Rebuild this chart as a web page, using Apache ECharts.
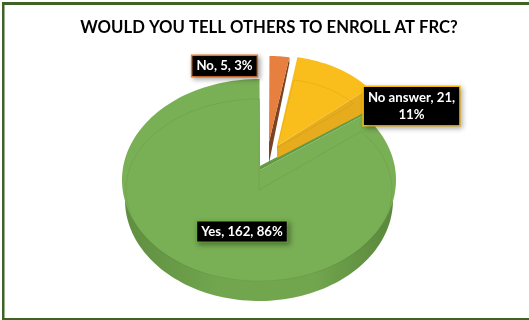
<!DOCTYPE html>
<html>
<head>
<meta charset="utf-8">
<style>html,body{margin:0;padding:0;background:#fff}#chart{width:529px;height:320px}</style>
<script src="https://cdn.jsdelivr.net/npm/echarts@6/dist/echarts.min.js"></script>
</head>
<body>
<div id="chart"></div>
<script>
// Survey answers
const categories = ['Yes', 'No', 'No answer'];
const counts = [162, 5, 21];
const titleText = 'WOULD YOU TELL OTHERS TO ENROLL AT FRC?';

// First slice starts this many degrees clockwise from twelve o'clock
const firstSliceAngle = 50;

// Tilted-pie geometry and look of each slice
const sliceLooks = [
  { apex: [260, 170], center: [259, 180], rx: 137, ry: 101, top: '#79AF55', rimDepth: 20, wallRx: 134,
    wallGradient: ['#5F8E40', '#72A64E', '#72A64E', '#5A873C'],
    cut: { edge: 'start', apexDepth: -4, rimDepth: -4, color: '#659A45' },
    inner: { center: [259, 190], rx: 133, ry: 91, color: 'rgba(70,110,45,0.14)' },
    label: { x: 242, y: 231.5, border: '#70AD47', wrap: false } },
  { apex: [269, 142], center: [269, 146], rx: 120, ry: 90, top: '#E77F3E', rimDepth: 0,
    cut: { edge: 'end', apexDepth: 21, rimDepth: 6, color: '#7A4322' },
    label: { x: 224.5, y: 66, border: '#ED7D31', wrap: false } },
  { apex: [277, 146], center: [277, 146], rx: 120, ry: 90, top: '#F9BE1C', rimDepth: 0,
    cut: { edge: 'end', apexDepth: 12, rimDepth: 22, color: '#E6AC1D' },
    inner: { center: [277, 148], rx: 100, ry: 69, color: 'rgba(170,120,10,0.18)' },
    label: { x: 411.5, y: 106, border: '#FFC000', wrap: true } }
];

const total = counts.reduce((a, b) => a + b, 0);
const toRad = d => d * Math.PI / 180;
const rimPoint = (c, rx, ry, deg, dy = 0) =>
  [c[0] + rx * Math.sin(toRad(deg)), c[1] - ry * Math.cos(toRad(deg)) + dy];

function arcPoints(c, rx, ry, from, to, dy = 0) {
  const pts = [];
  const steps = Math.max(8, Math.ceil((to - from) / 2));
  for (let i = 0; i <= steps; i++) pts.push(rimPoint(c, rx, ry, from + (to - from) * i / steps, dy));
  return pts;
}

// Start and end angle of a slice, taken from the cumulative counts
function sliceAngles(index) {
  let sum = 0;
  for (let i = 0; i < index; i++) sum += counts[i];
  const from = firstSliceAngle + sum / total * 360;
  return [from, from + counts[index] / total * 360];
}

function renderSlice(params, api) {
  const i = params.dataIndex;
  const look = sliceLooks[i];
  const [from, to] = sliceAngles(i);
  const children = [];
  const arc = arcPoints(look.center, look.rx, look.ry, from, to);

  if (look.rimDepth) {
    children.push({
      type: 'polygon',
      shape: { points: [[look.apex[0], look.apex[1] + look.rimDepth]].concat(arcPoints(look.center, look.wallRx, look.ry, from, to, look.rimDepth)) },
      style: {
        fill: new echarts.graphic.LinearGradient(0, 0, 1, 0, [
          { offset: 0, color: look.wallGradient[0] },
          { offset: 0.35, color: look.wallGradient[1] },
          { offset: 0.7, color: look.wallGradient[2] },
          { offset: 1, color: look.wallGradient[3] }
        ])
      }
    });
  }

  const edgeDeg = look.cut.edge === 'start' ? from : to;
  const rimEnd = rimPoint(look.center, look.rx, look.ry, edgeDeg);
  children.push({
    type: 'polygon',
    shape: { points: [
      look.apex, rimEnd,
      [rimEnd[0], rimEnd[1] + look.cut.rimDepth],
      [look.apex[0], look.apex[1] + look.cut.apexDepth]
    ] },
    style: { fill: look.cut.color }
  });

  children.push({
    type: 'polygon',
    shape: { points: [look.apex].concat(arc) },
    style: { fill: look.top }
  });

  if (look.inner) {
    children.push({
      type: 'polygon',
      shape: { points: [look.inner.center].concat(arcPoints(look.inner.center, look.inner.rx, look.inner.ry, from, to)) },
      style: { fill: 'none', stroke: look.inner.color, lineWidth: 1 }
    });
  }
  return { type: 'group', children };
}

// Value labels sit above every slice, so they get a series of their own
function renderLabel(params) {
  const i = params.dataIndex;
  const look = sliceLooks[i].label;
  const pct = Math.round(counts[i] / total * 100);
  const sep = look.wrap ? ',\n' : ', ';
  return {
    type: 'text',
    x: look.x,
    y: look.y,
    style: {
      text: categories[i] + ', ' + counts[i] + sep + pct + '%',
      align: 'center',
      verticalAlign: 'middle',
      fill: '#fff',
      font: 'bold 13.2px Lato, "Open Sans", sans-serif',
      lineHeight: 17,
      backgroundColor: '#000',
      borderColor: look.border,
      borderWidth: 1.5,
      padding: look.wrap ? [2, 4, 2, 4] : [2, 4, 1, 4],
      shadowBlur: 5,
      shadowColor: 'rgba(0,0,0,0.28)',
      shadowOffsetX: 2,
      shadowOffsetY: 2
    }
  };
}

const frameColor = '#3F6326';
const chart = echarts.init(document.getElementById('chart'), null, { renderer: 'canvas' });
chart.setOption({
  animation: false,
  backgroundColor: '#fff',
  title: {
    text: titleText,
    left: 264,
    top: 14,
    textAlign: 'center',
    textStyle: { fontFamily: 'Lato, "Open Sans", sans-serif', fontWeight: 'bold', fontSize: 16.7, color: '#000' }
  },
  graphic: [
    { type: 'rect', shape: { x: 2, y: 2, width: 527, height: 3 }, style: { fill: frameColor } },
    { type: 'rect', shape: { x: 2, y: 2, width: 2.5, height: 318 }, style: { fill: frameColor } },
    { type: 'rect', shape: { x: 2, y: 318, width: 527, height: 2 }, style: { fill: frameColor } }
  ],
  series: [
    { type: 'custom', coordinateSystem: 'none', renderItem: renderSlice, z: 2,
      data: categories.map((name, i) => ({ name, value: counts[i] })) },
    { type: 'custom', coordinateSystem: 'none', renderItem: renderLabel, z: 5,
      data: categories.map((name, i) => ({ name, value: counts[i] })) }
  ]
});
</script>
</body>
</html>
